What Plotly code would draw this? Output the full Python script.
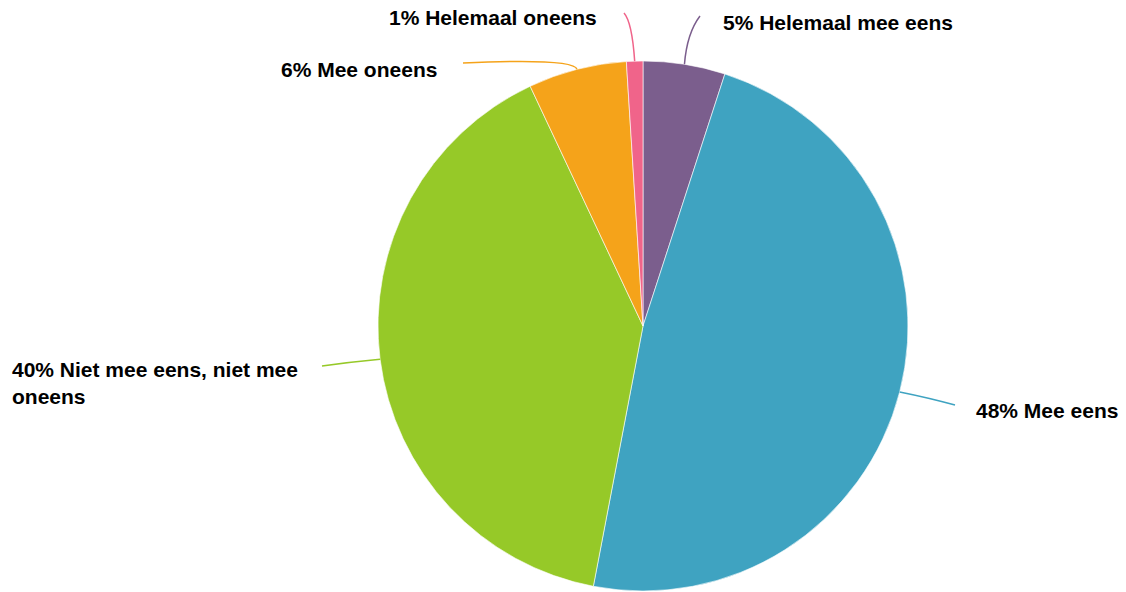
import math
import plotly.graph_objects as go

# ---- data ----
categories = ["Helemaal mee eens", "Mee eens", "Niet mee eens, niet mee oneens",
              "Mee oneens", "Helemaal oneens"]
values = [5, 48, 40, 6, 1]
label_texts = ["5% Helemaal mee eens", "48% Mee eens",
               "40% Niet mee eens, niet mee<br>oneens", "6% Mee oneens",
               "1% Helemaal oneens"]
colors = ["#7B5E8D", "#3FA3C1", "#96C928", "#F5A31A", "#F0648A"]

# ---- layout geometry (pixels) ----
W, H = 1126, 592
CX, CY, R = 643, 326, 265
# label anchor (x, y, xanchor)
label_pos = [(721, 22, "left"), (974, 410, "left"), (10, 383, "left"),
             (439, 69, "right"), (599, 18, "right")]
# leader line: elbow point + end point (pixels)
leader_pts = [
    [(687, 33), (700, 16)],
    [(930, 398), (955, 405)],
    [(350, 362), (322, 366)],
    [(574, 58), (463, 63)],
    [(632, 22), (624, 13)],
]

def px(x, y):
    return x / W, 1 - y / H

fig = go.Figure()
fig.add_trace(go.Pie(
    labels=categories, values=values, sort=False, direction="clockwise",
    rotation=0, textinfo="none", hoverinfo="label+percent",
    marker=dict(colors=colors, line=dict(color="rgba(255,255,255,0.6)", width=1)),
    domain=dict(x=[(CX - R) / W, (CX + R) / W], y=[1 - (CY + R) / H, 1 - (CY - R) / H]),
    showlegend=False,
))

total = sum(values)
cum = 0
shapes = []
annotations = []
for i, v in enumerate(values):
    mid = (cum + v / 2) / total * 2 * math.pi
    cum += v
    sx = CX + R * math.sin(mid)
    sy = CY - R * math.cos(mid)
    (ex1, ey1), (ex2, ey2) = leader_pts[i]
    p0 = px(sx, sy)
    p1 = px(ex1, ey1)
    p2 = px(ex2, ey2)
    path = f"M {p0[0]},{p0[1]} Q {p1[0]},{p1[1]} {p2[0]},{p2[1]}"
    shapes.append(dict(type="path", xref="paper", yref="paper", path=path,
                       line=dict(color=colors[i], width=1.5)))
    lx, ly, anc = label_pos[i]
    ax, ay = px(lx, ly)
    annotations.append(dict(x=ax, y=ay, xref="paper", yref="paper",
                            text=f"<b>{label_texts[i]}</b>", showarrow=False,
                            xanchor=anc, yanchor="middle", align="left",
                            font=dict(family="Liberation Sans, Arial", size=21, color="#000000")))

fig.update_layout(
    width=W, height=H, margin=dict(l=0, r=0, t=0, b=0),
    paper_bgcolor="white", plot_bgcolor="white",
    shapes=shapes, annotations=annotations,
)
fig.write_html("out.html", config={"displayModeBar": False},
               post_script="document.body.style.margin='0';document.body.style.overflow='hidden';")
